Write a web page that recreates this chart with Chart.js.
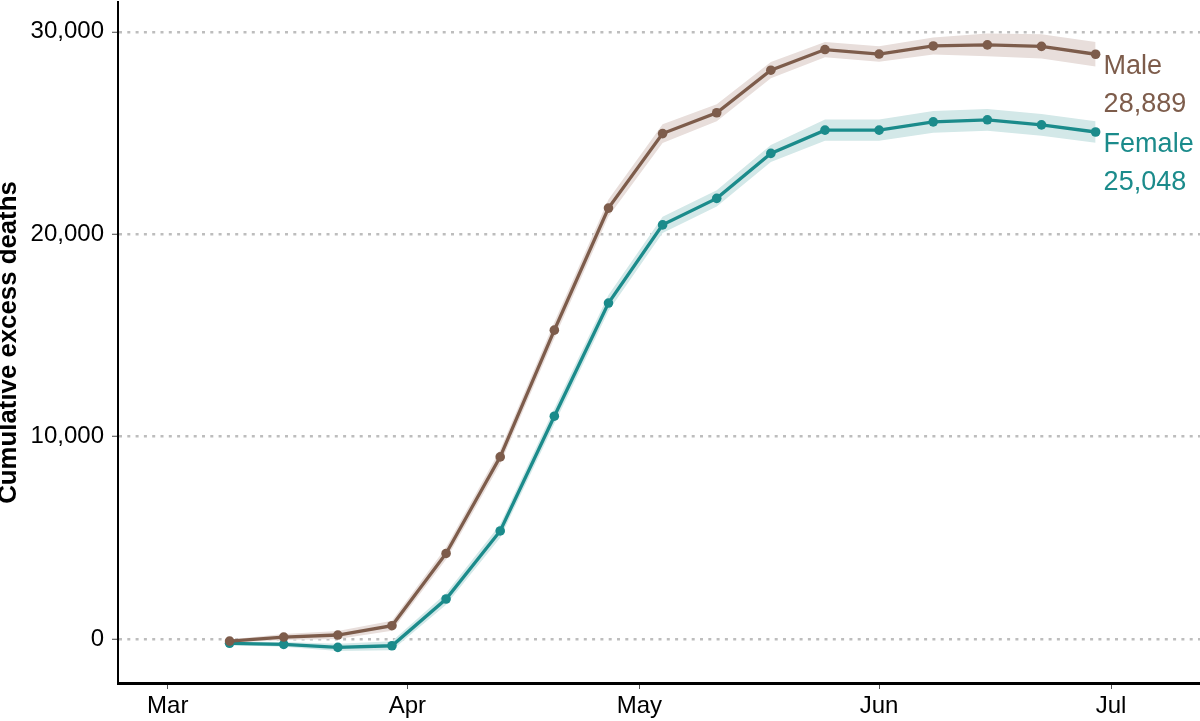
<!DOCTYPE html>
<html>
<head>
<meta charset="utf-8">
<script src="https://cdn.jsdelivr.net/npm/chart.js@4/dist/chart.umd.min.js"></script>
<style>
  html, body { margin: 0; padding: 0; background: #fff; }
  #wrap { width: 1200px; height: 721px; position: relative; }
</style>
</head>
<body>
<div id="wrap"><canvas id="c" width="1200" height="721"></canvas></div>
<script>
// ---- Data ----
const weekDates = ['2020-03-09','2020-03-16','2020-03-23','2020-03-30','2020-04-06','2020-04-13',
  '2020-04-20','2020-04-27','2020-05-04','2020-05-11','2020-05-18','2020-05-25','2020-06-01',
  '2020-06-08','2020-06-15','2020-06-22','2020-06-29'];
const maleValues = [-100, 100, 200, 660, 4230, 9000, 15260, 21290, 24970, 26000, 28100, 29120, 28900, 29300, 29350, 29280, 28889];
const femaleValues = [-210, -260, -410, -330, 1980, 5340, 11010, 16600, 20460, 21770, 23990, 25140, 25140, 25550, 25650, 25400, 25048];
const maleCI = [80, 150, 200, 250, 300, 350, 400, 420, 460, 420, 400, 380, 380, 420, 560, 600, 600];
const femaleCI = [80, 120, 180, 220, 280, 330, 380, 400, 400, 400, 420, 530, 530, 535, 535, 535, 530];
const monthTickDates = ['2020-03-01','2020-04-01','2020-05-01','2020-06-01','2020-07-01'];
const monthTickLabels = ['Mar','Apr','May','Jun','Jul'];
const yTickValues = [0, 10000, 20000, 30000];
const seriesNames = ['Male', 'Female'];

// ---- Helpers ----
const ORIGIN = Date.UTC(2020, 2, 1);
function dayOf(s) { const p = s.split('-').map(Number); return (Date.UTC(p[0], p[1]-1, p[2]) - ORIGIN) / 86400000; }
const xs = weekDates.map(dayOf);
const monthTickDays = monthTickDates.map(dayOf);
const pts = (vals) => vals.map((v, i) => ({x: xs[i], y: v}));
const maleLow = maleValues.map((v, i) => v - maleCI[i]);
const maleHigh = maleValues.map((v, i) => v + maleCI[i]);
const femaleLow = femaleValues.map((v, i) => v - femaleCI[i]);
const femaleHigh = femaleValues.map((v, i) => v + femaleCI[i]);

const MALE = '#7d5c4b', FEMALE = '#1b8b8b';
const MALE_BAND = '#e8dedb', FEMALE_BAND = '#d3e8e8';
const FONT = "'Liberation Sans', Arial, Helvetica, sans-serif";
Chart.defaults.font.family = FONT;

const endLabels = {
  id: 'endLabels',
  afterDatasetsDraw(chart) {
    const ctx = chart.ctx;
    const items = [
      {idx: 4, name: seriesNames[0], val: maleValues[maleValues.length-1], color: MALE},
      {idx: 5, name: seriesNames[1], val: femaleValues[femaleValues.length-1], color: FEMALE}
    ];
    ctx.save();
    ctx.font = "27px " + FONT;
    ctx.textAlign = 'left';
    ctx.textBaseline = 'alphabetic';
    items.forEach(it => {
      const meta = chart.getDatasetMeta(it.idx);
      const p = meta.data[meta.data.length - 1];
      ctx.fillStyle = it.color;
      ctx.fillText(it.name, p.x + 8, p.y + 20);
      ctx.fillText(it.val.toLocaleString('en-US'), p.x + 8, p.y + 58);
    });
    ctx.restore();
  }
};

new Chart(document.getElementById('c'), {
  type: 'line',
  data: {
    datasets: [
      {data: pts(maleLow), borderWidth: 0, pointRadius: 0, fill: false, order: 2},
      {data: pts(maleHigh), borderWidth: 0, pointRadius: 0, fill: '-1', backgroundColor: MALE_BAND, order: 2},
      {data: pts(femaleLow), borderWidth: 0, pointRadius: 0, fill: false, order: 2},
      {data: pts(femaleHigh), borderWidth: 0, pointRadius: 0, fill: '-1', backgroundColor: FEMALE_BAND, order: 2},
      {label: seriesNames[0], data: pts(maleValues), borderColor: MALE, borderWidth: 3.3, tension: 0,
       pointRadius: 4.8, pointBackgroundColor: MALE, pointBorderWidth: 0, fill: false, order: 0},
      {label: seriesNames[1], data: pts(femaleValues), borderColor: FEMALE, borderWidth: 3.3, tension: 0,
       pointRadius: 4.8, pointBackgroundColor: FEMALE, pointBorderWidth: 0, fill: false, order: 0}
    ]
  },
  options: {
    responsive: false,
    animation: false,
    events: [],
    layout: {autoPadding: false, padding: {top: 2, right: 0, left: 0, bottom: 0}},
    plugins: {legend: {display: false}, tooltip: {enabled: false}},
    scales: {
      x: {
        type: 'linear',
        min: -6.43, max: 133.5,
        afterFit(s) { s.height = 38; s.paddingLeft = 0; s.paddingRight = 0; },
        afterBuildTicks(s) { s.ticks = monthTickDays.map(v => ({value: v})); },
        ticks: {
          autoSkip: false, maxRotation: 0, padding: 3, color: '#000',
          font: {size: 24, family: FONT},
          callback(v) { const i = monthTickDays.indexOf(v); return i >= 0 ? monthTickLabels[i] : ''; }
        },
        grid: {drawOnChartArea: false, drawTicks: true, tickLength: 6, tickColor: '#555', tickWidth: 1},
        border: {display: true, color: '#000', width: 3}
      },
      y: {
        type: 'linear',
        min: -2170, max: 31470,
        afterFit(s) { s.width = 118; s.paddingTop = 0; s.paddingBottom = 0; },
        afterBuildTicks(s) { s.ticks = yTickValues.map(v => ({value: v})); },
        ticks: {
          padding: 8, color: '#000',
          font: {size: 24, family: FONT},
          callback(v) { return Number(v).toLocaleString('en-US'); }
        },
        grid: {color: '#bdbdbd', lineWidth: 2.5, drawTicks: true, tickLength: 6, tickColor: '#444', tickWidth: 1},
        border: {display: true, color: '#000', width: 2, dash: [3, 5.3]},
        title: {
          display: true, text: 'Cumulative excess deaths', color: '#000',
          font: {size: 25.8, weight: 'bold', family: FONT, lineHeight: 0.72},
          padding: {top: 0, bottom: 0}
        }
      }
    }
  },
  plugins: [endLabels]
});
</script>
</body>
</html>
